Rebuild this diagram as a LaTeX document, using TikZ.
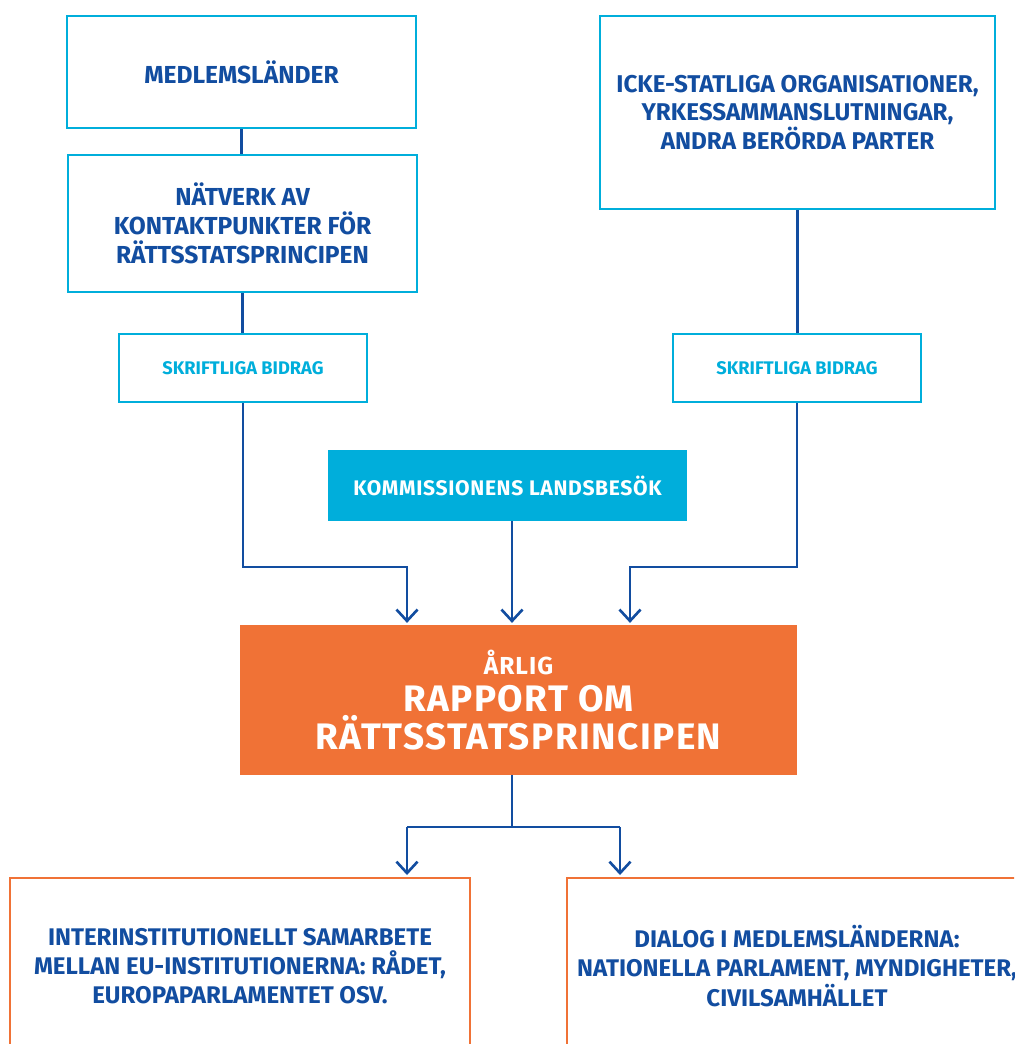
\documentclass[tikz,border=0pt]{standalone}
\usepackage{fontspec}
\setmainfont{Fira Sans}
\usetikzlibrary{arrows.meta}
\definecolor{eucyan}{RGB}{0,174,219}
\definecolor{eublue}{RGB}{18,77,160}
\definecolor{euorange}{RGB}{240,114,54}
\tikzset{
	wh/.style 2 args={minimum width=#1*0.02cm, minimum height=#2*0.02cm},
	outline/.style={draw=eucyan, line width=1.4pt, text=eublue, align=center, inner sep=0pt, font=\bfseries\fontsize{14}{16.4}\selectfont},
	contrib/.style={outline, text=eucyan, font=\bfseries\fontsize{10.4}{12}\selectfont},
	visit/.style={fill=eucyan, text=white, inner sep=0pt, font=\bfseries\fontsize{12}{14}\selectfont\addfontfeature{LetterSpace=3}},
	report/.style={fill=euorange, text=white, align=center, inner sep=0pt, font=\bfseries\fontsize{21}{21.5}\selectfont\addfontfeature{LetterSpace=4}},
	follow/.style={draw=euorange, line width=1.4pt, text=eublue, align=center, inner sep=0pt, font=\bfseries\fontsize{13.7}{16.7}\selectfont},
	link/.style={draw=eublue, line width=1.5pt},
	arr/.style={link, -{Straight Barb[length=6.5pt,width=12pt]}, shorten >=1pt},
}
\begin{document}
\begin{tikzpicture}[x=0.02cm, y=-0.02cm]
	%%%%% START %%%%%
	\useasboundingbox (0,0) rectangle (1014,1044);
	\clip (0,0) rectangle (1014,1044);
	
	% sources
	\node[outline, wh={349}{112}] (medlem) at (241.5, 72) {MEDLEMSLÄNDER};
	\node[outline, wh={349}{137}] (natverk) at (242.5, 223.5) {NÄTVERK AV\\KONTAKTPUNKTER FÖR\\RÄTTSSTATSPRINCIPEN};
	\node[contrib, wh={248}{68}] (bidragL) at (243, 368) {SKRIFTLIGA BIDRAG};
	
	\node[outline, wh={395}{193}, font=\bfseries\fontsize{13.8}{16.4}\selectfont] (icke) at (797.5, 112.5) {ICKE-STATLIGA ORGANISATIONER,\\YRKESSAMMANSLUTNINGAR,\\ANDRA BERÖRDA PARTER};
	\node[contrib, wh={248}{68}] (bidragR) at (797, 368) {SKRIFTLIGA BIDRAG};
	
	\node[visit, wh={359}{71}] (besok) at (507.5, 485.5) {KOMMISSIONENS LANDSBESÖK};
	
	% report
	\node[report, wh={557}{150}] (rapport) at (518.5, 700) {{\fontsize{14}{16}\selectfont ÅRLIG}\\RAPPORT OM\\RÄTTSSTATSPRINCIPEN};
	
	% follow-up
	\node[follow, wh={460}{176}] (inter) at (240, 966) {INTERINSTITUTIONELLT SAMARBETE\\MELLAN EU-INSTITUTIONERNA: RÅDET,\\EUROPAPARLAMENTET OSV.};
	\node[follow, wh={460}{176}] (dialog) at (797, 966) {DIALOG I MEDLEMSLÄNDERNA:\\NATIONELLA PARLAMENT, MYNDIGHETER,\\CIVILSAMHÄLLET};
	
	% bends
	\coordinate (kL) at (407, 567);
	\coordinate (kR) at (630, 567);
	\coordinate (hub) at (512, 827);
	\coordinate (outL) at (407, 827);
	\coordinate (outR) at (620, 827);
	
	\draw[link] (medlem.south) -- (medlem.south |- natverk.north);
	\draw[link] (natverk.south) -- (natverk.south |- bidragL.north);
	\draw[link] (icke.south) -- (icke.south |- bidragR.north);
	
	\draw[arr] (bidragL.south) |- (kL) -- (kL |- rapport.north);
	\draw[arr] (bidragR.south) |- (kR) -- (kR |- rapport.north);
	\draw[arr] (besok.south -| hub) -- (hub |- rapport.north);
	
	\draw[link] (rapport.south -| hub) -- (hub);
	\draw[link] (outL) -- (outR);
	\draw[arr] (outL) -- (outL |- inter.north);
	\draw[arr] (outR) -- (outR |- dialog.north);
	
	%%%%% END %%%%%
\end{tikzpicture}
\end{document}
